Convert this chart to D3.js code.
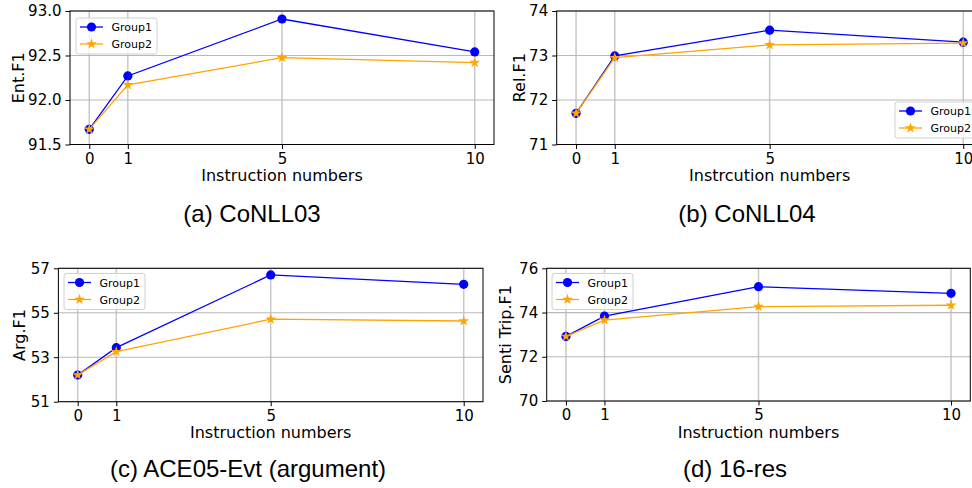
<!DOCTYPE html>
<html>
<head>
<meta charset="utf-8">
<script src="https://cdn.jsdelivr.net/npm/d3@7"></script>
<style>
  body { margin: 0; background: #fff; }
  svg { display: block; }
</style>
</head>
<body>
<div id="chart"></div>
<script>
// data
const instrNums = [0, 1, 5, 10];
const seriesNames = ["Group1", "Group2"];

const conll03G1 = [91.67, 92.27, 92.91, 92.54];
const conll03G2 = [91.67, 92.17, 92.475, 92.42];
const conll03Ticks = [91.5, 92.0, 92.5, 93.0];

const conll04G1 = [71.70, 72.99, 73.57, 73.30];
const conll04G2 = [71.70, 72.95, 73.24, 73.28];
const conll04Ticks = [71, 72, 73, 74];

const aceG1 = [52.2, 53.43, 56.70, 56.28];
const aceG2 = [52.2, 53.25, 54.71, 54.63];
const aceTicks = [51, 53, 55, 57];

const resG1 = [72.92, 73.84, 75.17, 74.87];
const resG2 = [72.92, 73.66, 74.27, 74.33];
const resTicks = [70, 72, 74, 76];

const width = 972;
const height = 488;

const svg = d3.select("#chart")
  .append("svg")
  .attr("width", width)
  .attr("height", height);

// one entry per subplot: plot box in px, labels, legend spot
const panels = [
  { box: [70, 11, 494, 144.5], g1: conll03G1, g2: conll03G2, ticks: conll03Ticks, fmt: ".1f",
    ylabel: "Ent.F1", ylabelX: 24, xlabel: "Instruction numbers", title: "(a) CoNLL03", titleX: 252, titleY: 222,
    legend: [76, 18] },
  { box: [556.7, 11, 982.6, 144.5], g1: conll04G1, g2: conll04G2, ticks: conll04Ticks, fmt: "d",
    ylabel: "Rel.F1", ylabelX: 525, xlabel: "Instrcution numbers", title: "(b) CoNLL04", titleX: 747, titleY: 222,
    legend: [895, 102] },
  { box: [58.4, 268.3, 483, 401.7], g1: aceG1, g2: aceG2, ticks: aceTicks, fmt: "d",
    ylabel: "Arg.F1", ylabelX: 25, xlabel: "Instruction numbers", title: "(c) ACE05-Evt (argument)", titleX: 248, titleY: 477,
    legend: [64, 273.5] },
  { box: [546.7, 268.3, 970.3, 401], g1: resG1, g2: resG2, ticks: resTicks, fmt: "d",
    ylabel: "Senti Trip.F1", ylabelX: 511, xlabel: "Instruction numbers", title: "(d) 16-res", titleX: 735, titleY: 477,
    legend: [552, 273.5] }
];

const colors = ["#0000ff", "#ffa500"];
const starPath = d3.symbol().type(d3.symbolStar).size(36)();

panels.forEach(p => {
  const [x0, y0, x1, y1] = p.box;
  const x = d3.scaleLinear().domain([-0.5, 10.5]).range([x0, x1]);
  const y = d3.scaleLinear().domain([p.ticks[0], p.ticks[p.ticks.length - 1]]).range([y1, y0]);

  const g = svg.append("g");

  // grid
  g.append("g").selectAll("line.vg")
    .data(instrNums)
    .enter().append("line")
    .attr("x1", d => x(d)).attr("x2", d => x(d))
    .attr("y1", y0).attr("y2", y1)
    .attr("stroke", "#c8c8c8").attr("stroke-width", 1.5);
  g.append("g").selectAll("line.hg")
    .data(p.ticks)
    .enter().append("line")
    .attr("x1", x0).attr("x2", x1)
    .attr("y1", d => y(d)).attr("y2", d => y(d))
    .attr("stroke", "#b8b8b8").attr("stroke-width", 1.2);

  // axes
  const xAxis = g.append("g")
    .attr("transform", `translate(0,${y1})`)
    .call(d3.axisBottom(x).tickValues(instrNums).tickSize(4.5).tickSizeOuter(0).tickPadding(4));
  const yAxis = g.append("g")
    .attr("transform", `translate(${x0},0)`)
    .call(d3.axisLeft(y).tickValues(p.ticks).tickFormat(d3.format(p.fmt)).tickSize(4.5).tickSizeOuter(0).tickPadding(4));
  [xAxis, yAxis].forEach(a => {
    a.select(".domain").remove();
    a.selectAll("line").attr("stroke", "#000").attr("stroke-width", 1);
    a.selectAll("text")
      .attr("font-family", "DejaVu Sans")
      .attr("font-size", 15)
      .attr("fill", "#000");
  });

  // frame
  g.append("rect")
    .attr("x", x0).attr("y", y0)
    .attr("width", x1 - x0).attr("height", y1 - y0)
    .attr("fill", "none").attr("stroke", "#000").attr("stroke-width", 1);

  // series
  [p.g1, p.g2].forEach((vals, i) => {
    const pts = instrNums.map((n, k) => [n, vals[k]]);
    g.append("path")
      .datum(pts)
      .attr("fill", "none")
      .attr("stroke", colors[i])
      .attr("stroke-width", 1.3)
      .attr("d", d3.line().x(d => x(d[0])).y(d => y(d[1])));
    if (i === 0) {
      g.selectAll(null).data(pts).enter().append("circle")
        .attr("cx", d => x(d[0])).attr("cy", d => y(d[1]))
        .attr("r", 4.6).attr("fill", colors[i]);
    } else {
      g.selectAll(null).data(pts).enter().append("path")
        .attr("d", starPath)
        .attr("transform", d => `translate(${x(d[0])},${y(d[1])})`)
        .attr("fill", colors[i]);
    }
  });

  // labels
  g.append("text")
    .attr("x", (x0 + x1) / 2).attr("y", y1 + 36.5)
    .attr("text-anchor", "middle")
    .attr("font-family", "DejaVu Sans").attr("font-size", 16)
    .text(p.xlabel);
  g.append("text")
    .attr("transform", `translate(${p.ylabelX},${(y0 + y1) / 2}) rotate(-90)`)
    .attr("text-anchor", "middle")
    .attr("font-family", "DejaVu Sans").attr("font-size", 16)
    .text(p.ylabel);
  svg.append("text")
    .attr("x", p.titleX).attr("y", p.titleY)
    .attr("text-anchor", "middle")
    .attr("font-family", "Liberation Sans").attr("font-size", 24)
    .text(p.title);

  // legend
  const [lx, ly] = p.legend;
  const lg = g.append("g").attr("transform", `translate(${lx},${ly})`);
  lg.append("rect")
    .attr("width", 81).attr("height", 36).attr("rx", 2.5)
    .attr("fill", "#fff").attr("fill-opacity", 0.8)
    .attr("stroke", "#d0d0d0").attr("stroke-width", 1);
  seriesNames.forEach((name, i) => {
    const ry = 9 + i * 17;
    lg.append("line")
      .attr("x1", 4).attr("x2", 27).attr("y1", ry).attr("y2", ry)
      .attr("stroke", colors[i]).attr("stroke-width", 1.3);
    if (i === 0) {
      lg.append("circle").attr("cx", 15.5).attr("cy", ry).attr("r", 4.6).attr("fill", colors[i]);
    } else {
      lg.append("path").attr("d", starPath)
        .attr("transform", `translate(15.5,${ry})`).attr("fill", colors[i]);
    }
    lg.append("text")
      .attr("x", 35.5).attr("y", ry + 4)
      .attr("font-family", "DejaVu Sans").attr("font-size", 11)
      .text(name);
  });
});
</script>
</body>
</html>
